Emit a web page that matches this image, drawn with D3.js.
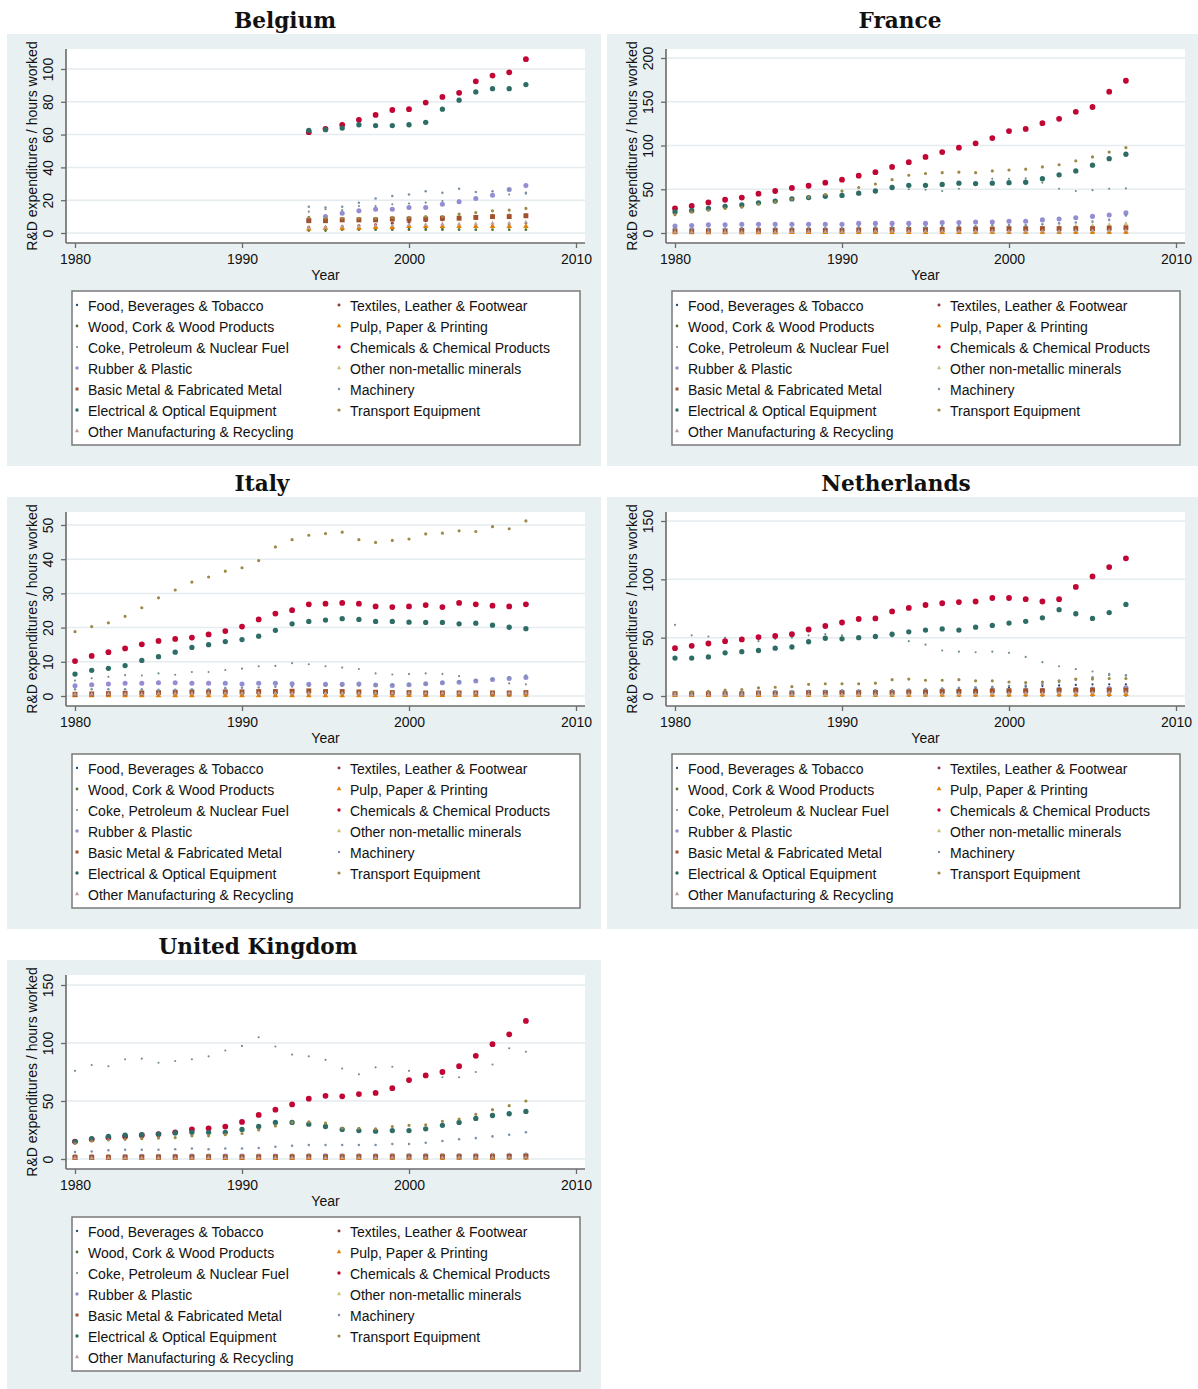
<!DOCTYPE html>
<html lang="en">
<head>
<meta charset="UTF-8">
<title>R&amp;D expenditures / hours worked by industry</title>
<style>
  body { margin: 0; background: #fff; }
  svg text { font-family: "Liberation Sans", Arial, sans-serif; fill: #111; }
  .title { font-family: "DejaVu Serif", Georgia, serif !important; font-weight: bold; font-size: 21.6px; }
  .axtitle { font-size: 14px; }
  .leg { font-size: 14px; }
</style>
</head>
<body>
<svg width="1198" height="1389"></svg>
<script src="https://d3js.org/d3.v7.min.js"></script>
<script>
// industries, in legend (row-major, 2 columns) order
const seriesNames = [
  "Food, Beverages & Tobacco", "Textiles, Leather & Footwear",
  "Wood, Cork & Wood Products", "Pulp, Paper & Printing",
  "Coke, Petroleum & Nuclear Fuel", "Chemicals & Chemical Products",
  "Rubber & Plastic", "Other non-metallic minerals",
  "Basic Metal & Fabricated Metal", "Machinery",
  "Electrical & Optical Equipment", "Transport Equipment",
  "Other Manufacturing & Recycling"
];
// stata s2color
const seriesColors = ["#1a476f", "#90353b", "#55752f", "#e37e00", "#6e8e84", "#c10534",
  "#938dd2", "#cac27e", "#a0522d", "#7b92a8", "#2d6d66", "#9c8847", "#bfa19c"];
const seriesShapes = ["circle", "circle", "circle", "triangle", "circle", "circle",
  "circle", "triangle", "square", "circle", "circle", "circle", "triangle"];
const seriesSize = [4, 7, 6, 14, 3.5, 26, 20, 8, 24, 5, 22, 8, 8];

const yearsBelgium = [1994, 1995, 1996, 1997, 1998, 1999, 2000, 2001, 2002, 2003, 2004, 2005, 2006, 2007];
const yearsAll = [1980, 1981, 1982, 1983, 1984, 1985, 1986, 1987, 1988, 1989, 1990, 1991, 1992, 1993,
  1994, 1995, 1996, 1997, 1998, 1999, 2000, 2001, 2002, 2003, 2004, 2005, 2006, 2007];
const xTicks = [1980, 1990, 2000, 2010];

const belgium = [
  [2.5, 2.5, 2.5, 3, 3, 3, 3, 3, 3, 3.5, 4, 4.5, 5, 6],
  [3.5, 3.5, 4, 4.5, 5, 6, 6.5, 7.5, 8, 9, 9, 9.5, 10, 11],
  [1.5, 1.5, 2, 2, 2, 2, 2, 2, 2, 2, 2, 2, 2, 2],
  [2.5, 3, 3, 3, 3.5, 3.5, 4, 4, 4, 4, 4, 4, 4, 4],
  [13, 14.5, 14, 16.5, 16.5, 17.5, 18, 18.5, 19.5, 20, 21.5, 23.5, 23.5, 24],
  [61.5, 63.5, 66, 69, 72, 75, 75.5, 79.5, 83, 85.5, 92.5, 96, 98, 106],
  [8, 10, 12, 13.5, 14.5, 14.5, 15.5, 15.5, 17.5, 19, 21, 23, 26.5, 29],
  [7, 7, 7.5, 7.5, 8, 8.5, 9, 9, 9.5, 10, 10, 10.5, 11, 11],
  [7.5, 7.5, 8, 8, 8, 8.5, 8.5, 8.5, 9, 9, 9.5, 10, 10, 10.5],
  [16, 15.5, 16, 18.5, 21, 22.5, 23.5, 25.5, 24.5, 27, 25, 25.5, 26.5, 24.5],
  [62.5, 63, 64, 66, 65.5, 65.5, 66, 67.5, 75.5, 81, 86, 88, 88, 90.5],
  [9.5, 9, 9, 9, 9, 9.5, 9.5, 10, 10, 11.5, 12.5, 13.5, 14, 15],
  [3, 3.5, 4, 4, 4.5, 4.5, 5, 5, 5.5, 5.5, 5.5, 6, 6, 6.5]
];

const france = [
  [1, 1, 1, 1, 1, 1, 1, 1.2, 1.2, 1.2, 1.3, 1.3, 1.3, 1.4, 1.4, 1.4, 1.5, 1.5, 1.5, 1.5, 1.6, 1.6, 1.6, 1.7, 1.7, 1.8, 1.9, 2],
  [1.5, 1.5, 1.5, 1.5, 2, 2, 2, 2, 2, 2, 2, 2.5, 2.5, 2.5, 3, 3, 3, 3, 3, 3, 3.5, 3.5, 3.5, 3.5, 4, 4, 4.5, 5],
  [0.3, 0.3, 0.3, 0.3, 0.3, 0.3, 0.3, 0.3, 0.4, 0.4, 0.4, 0.4, 0.4, 0.4, 0.4, 0.4, 0.5, 0.5, 0.5, 0.5, 0.5, 0.5, 0.5, 0.5, 0.5, 0.5, 0.5, 0.5],
  [0.5, 0.5, 0.5, 0.5, 0.5, 0.5, 0.5, 0.6, 0.6, 0.6, 0.6, 0.7, 0.7, 0.7, 0.8, 0.8, 0.8, 0.8, 0.9, 0.9, 0.9, 1, 1, 1, 1, 1, 1.1, 1.1],
  [22, 24, 27, 29, 31, 33, 35, 38, 40, 42, 45, 47, 48, 50, 50, 49.5, 48, 50.5, 55, 62, 62, 62.5, 57.5, 50.5, 48, 49, 50.5, 51],
  [28, 31, 35, 38, 40.5, 45, 48, 51.5, 54, 57.5, 61, 65.5, 69.5, 75.5, 81, 87, 92.5, 97.5, 102.5, 108.5, 116.5, 119, 125.5, 130.5, 138.5, 144, 161.5, 174],
  [8, 8.5, 9.5, 9.5, 10, 10, 10, 10, 10, 10, 10, 11, 11, 11, 11, 11, 12, 12, 12.5, 12.5, 13.5, 13.5, 15, 16, 17.5, 19, 20.5, 23],
  [3, 3, 3, 3, 3, 3, 3, 3, 3.2, 3.3, 3.5, 3.7, 3.9, 4, 4.2, 4.4, 4.6, 4.8, 5, 5.3, 5.7, 6, 6.5, 7, 7.8, 8.5, 9.5, 10.5],
  [2.5, 2.5, 2.5, 2.5, 3, 3, 3, 3, 3, 3, 3, 3.5, 3.5, 4, 4, 4, 4, 4.5, 4.5, 4.5, 5, 5, 5, 5, 5, 5, 5.5, 6],
  [5, 5, 5, 5, 6, 6, 6, 6, 6, 6, 6, 7, 7, 7, 7, 7, 8, 8, 8, 9, 9, 9, 10, 11, 12, 13, 15, 20],
  [24, 25.5, 28, 30.5, 32, 34.5, 36.5, 39, 40.5, 42, 43, 45.5, 48, 52, 54.5, 54.5, 55.5, 57, 56.5, 57, 57.5, 58, 62, 66.5, 71, 77.5, 85, 90],
  [21, 24, 26, 28, 29.5, 33, 35.5, 38.5, 41, 44, 48, 52, 56, 61, 66, 68, 69, 69.5, 69, 71, 72, 73, 75.5, 78, 82.5, 87, 92.5, 97.5],
  [1, 1, 1, 1, 1, 1, 1, 1.5, 1.5, 1.5, 1.5, 2, 2, 2, 2, 2, 2, 2, 2, 2, 2, 2, 2, 2, 2.5, 2.5, 2.5, 3]
];

const italy = [
  [0.5, 0.5, 0.5, 0.5, 0.5, 0.5, 0.6, 0.6, 0.6, 0.6, 0.6, 0.6, 0.6, 0.6, 0.6, 0.6, 0.6, 0.6, 0.6, 0.6, 0.6, 0.7, 0.7, 0.7, 0.7, 0.8, 0.8, 0.8],
  [0.3, 0.3, 0.3, 0.3, 0.3, 0.3, 0.4, 0.4, 0.4, 0.4, 0.5, 0.5, 0.5, 0.5, 0.5, 0.5, 0.5, 0.5, 0.5, 0.5, 0.5, 0.5, 0.5, 0.5, 0.5, 0.5, 0.5, 0.5],
  [0.1, 0.1, 0.1, 0.1, 0.1, 0.1, 0.1, 0.1, 0.1, 0.1, 0.1, 0.1, 0.1, 0.1, 0.1, 0.1, 0.1, 0.1, 0.1, 0.1, 0.1, 0.1, 0.1, 0.1, 0.1, 0.1, 0.1, 0.1],
  [0.1, 0.1, 0.1, 0.1, 0.1, 0.1, 0.1, 0.1, 0.1, 0.1, 0.1, 0.1, 0.1, 0.1, 0.1, 0.1, 0.1, 0.1, 0.1, 0.1, 0.2, 0.2, 0.2, 0.2, 0.2, 0.3, 0.3, 0.3],
  [4.5, 5.2, 5.6, 6.1, 6, 6.6, 6.2, 7, 7, 7.6, 8, 8.7, 8.8, 9.6, 9.3, 8.7, 8.3, 7.9, 6.6, 6.3, 6.4, 6.6, 6.4, 5.8, 4.5, 4.8, 3.7, 3.4],
  [10.2, 11.7, 12.8, 13.9, 15.1, 16.1, 16.7, 17.1, 18, 19, 20.3, 22.4, 24.1, 25.1, 26.8, 27, 27.2, 27, 26.2, 26, 26.2, 26.6, 26, 27.2, 26.8, 26.4, 26.2, 26.8],
  [3, 3.3, 3.5, 3.7, 3.7, 3.9, 3.9, 3.7, 3.7, 3.7, 3.5, 3.7, 3.7, 3.6, 3.4, 3.4, 3.4, 3.5, 3.2, 3.1, 3.3, 3.6, 3.9, 4, 4.4, 4.8, 5.1, 5.4],
  [0.8, 0.8, 0.9, 0.9, 1, 1, 1.1, 1.1, 1.2, 1.2, 1.2, 1.2, 1.3, 1.3, 1.3, 1.3, 1.2, 1.2, 1.1, 1.1, 1.1, 1, 1, 1, 1, 1, 1, 1],
  [0.5, 0.6, 0.7, 0.8, 0.9, 1, 1.1, 1.2, 1.2, 1.2, 1.2, 1.3, 1.3, 1.4, 1.5, 1.3, 1.3, 1.2, 1.1, 1, 1, 0.9, 0.9, 0.9, 0.9, 0.9, 0.9, 1],
  [2, 2, 2, 2, 2, 1.8, 1.8, 2, 2, 2.3, 2.4, 2.5, 2.7, 2.8, 3, 3, 3, 3.1, 3.1, 3.3, 3.4, 3.6, 4, 4.3, 4.7, 5, 5.5, 6],
  [6.4, 7.5, 8.1, 8.9, 10.4, 11.5, 12.8, 14.2, 15, 15.9, 16.5, 17.5, 19.2, 21.1, 21.8, 22.2, 22.6, 22.4, 21.8, 21.8, 21.6, 21.5, 21.5, 21.1, 21.3, 20.7, 20.1, 19.7],
  [18.8, 20.3, 21.4, 23.3, 25.8, 28.7, 31, 33.3, 34.8, 36.5, 37.5, 39.6, 43.6, 45.7, 47, 47.5, 47.9, 45.7, 44.9, 45.5, 45.9, 47.4, 47.6, 48.3, 48.1, 49.5, 48.9, 51.2],
  [0.5, 0.5, 0.6, 0.6, 0.6, 0.7, 0.7, 0.7, 0.8, 0.8, 0.8, 0.8, 0.8, 0.8, 0.8, 0.8, 0.8, 0.8, 0.8, 0.8, 0.8, 0.8, 0.8, 0.8, 0.8, 0.8, 0.8, 0.8]
];

const netherlands = [
  [2, 2, 2, 2, 2.5, 2.5, 3, 3, 3, 3.5, 4, 4, 4.5, 4.5, 5, 5.5, 6, 6, 6.5, 7, 7.5, 8, 8.5, 9, 9.5, 10, 10, 10],
  [1, 1, 1, 1, 1, 1, 1, 1.2, 1.2, 1.2, 1.2, 1.3, 1.3, 1.4, 1.4, 1.5, 1.5, 1.5, 1.6, 1.6, 1.7, 1.7, 1.8, 1.8, 2, 2, 2.2, 2.5],
  [0.3, 0.3, 0.3, 0.3, 0.3, 0.3, 0.3, 0.3, 0.3, 0.3, 0.4, 0.4, 0.4, 0.4, 0.4, 0.4, 0.4, 0.4, 0.4, 0.4, 0.5, 0.5, 0.5, 0.5, 0.5, 0.5, 0.5, 0.5],
  [0.5, 0.5, 0.5, 0.5, 0.6, 0.6, 0.6, 0.6, 0.7, 0.7, 0.7, 0.7, 0.8, 0.8, 0.8, 0.9, 0.9, 0.9, 1, 1, 1, 1.1, 1.1, 1.2, 1.2, 1.3, 1.4, 1.5],
  [61, 52, 51, 50, 49, 47, 49, 50, 52, 53, 52, 50, 50, 51, 47, 44, 39, 38, 37.5, 38, 37, 33.5, 29, 25.5, 23, 21, 19, 18],
  [41, 43, 45, 47, 48.5, 50.5, 51.5, 53, 57, 60, 63, 66, 66.5, 72.5, 75.5, 78, 79.5, 80.5, 81, 84, 84, 83, 81, 83, 93.5, 102.5, 110.5, 118],
  [2, 2, 2, 2, 2, 2.5, 2.5, 2.5, 3, 3, 3, 3, 3, 3, 3.5, 3.5, 4, 4, 4, 4.5, 4.5, 4.5, 5, 5.5, 5.5, 6, 6.5, 7],
  [1, 1, 1, 1, 1, 1, 1.2, 1.2, 1.3, 1.3, 1.4, 1.4, 1.5, 1.5, 1.6, 1.6, 1.7, 1.8, 2, 2.2, 2.5, 3, 3.5, 4, 4.5, 5, 5.5, 6],
  [2, 2, 2, 2, 2, 2.5, 2.5, 2.5, 3, 3, 3, 3, 3, 3, 3.5, 3.5, 4, 4, 4, 4.5, 4.5, 4.5, 4.5, 5, 5, 5, 5, 5],
  [3, 3, 3, 3, 3.5, 3.5, 4, 4, 4.5, 4.5, 5, 5, 5, 5, 5.5, 6, 6.5, 7, 7.5, 8, 8.5, 9, 10, 12, 14, 16, 18, 17.5],
  [32.5, 32.5, 33.5, 37, 38, 39, 41, 42, 46.5, 49.5, 49, 50, 51, 53, 55, 56.5, 57.5, 56.5, 59, 60.5, 62.5, 64, 67, 74, 70.5, 66.5, 71.5, 78.5],
  [3, 3.5, 4, 5, 5.5, 7, 7.5, 8, 10, 10.5, 10.5, 10.5, 11, 14, 14.5, 13.5, 13.5, 14, 13, 13, 12, 11.5, 12, 13, 14.5, 14.5, 15, 15],
  [1, 1, 1, 1, 1.2, 1.2, 1.2, 1.3, 1.3, 1.4, 1.4, 1.5, 1.5, 1.6, 1.7, 1.8, 1.9, 2, 2, 2.1, 2.2, 2.3, 2.4, 2.5, 2.6, 2.7, 2.8, 3]
];

const unitedKingdom = [
  [1, 1, 1, 1, 1, 1, 1, 1, 1, 1, 1.1, 1.1, 1.1, 1.1, 1.2, 1.2, 1.2, 1.2, 1.3, 1.3, 1.3, 1.3, 1.4, 1.4, 1.4, 1.5, 1.5, 1.6],
  [1.5, 1.5, 1.5, 1.5, 1.5, 1.5, 1.6, 1.6, 1.6, 1.6, 1.7, 1.7, 1.7, 1.7, 1.8, 1.8, 1.8, 1.8, 1.9, 1.9, 1.9, 2, 2, 2, 2.1, 2.1, 2.2, 2.3],
  [0.3, 0.3, 0.3, 0.3, 0.3, 0.3, 0.3, 0.3, 0.3, 0.3, 0.3, 0.3, 0.3, 0.3, 0.3, 0.3, 0.3, 0.3, 0.3, 0.3, 0.3, 0.3, 0.3, 0.3, 0.3, 0.3, 0.3, 0.3],
  [0.5, 0.5, 0.5, 0.5, 0.5, 0.5, 0.5, 0.5, 0.5, 0.5, 0.6, 0.6, 0.6, 0.6, 0.6, 0.6, 0.6, 0.6, 0.7, 0.7, 0.7, 0.7, 0.7, 0.8, 0.8, 0.8, 0.9, 0.9],
  [76, 81, 80, 86, 86.5, 83, 84.5, 86, 88.5, 93.5, 97.5, 105, 97, 90, 88.5, 85.5, 78, 73, 79, 79.5, 76, 71.5, 70.5, 70.5, 75, 81.5, 95.5, 92.5],
  [15, 17, 18.5, 19.5, 20.5, 21.5, 23, 25.5, 26.5, 28, 32, 38, 42.5, 47, 52, 54.5, 54, 56, 57, 61, 68, 72, 75, 80, 89, 99, 107.5, 119],
  [2, 2, 2, 2.2, 2.3, 2.3, 2.4, 2.5, 2.5, 2.5, 2.5, 2.6, 2.6, 2.6, 2.7, 2.7, 2.8, 2.8, 2.8, 2.9, 2.9, 3, 3, 3.1, 3.1, 3.2, 3.3, 3.5],
  [2.5, 2.5, 2.5, 2.5, 2.6, 2.6, 2.6, 2.7, 2.7, 2.7, 2.8, 2.8, 2.8, 2.9, 2.9, 3, 3, 3, 3.1, 3.1, 3.2, 3.2, 3.3, 3.3, 3.4, 3.5, 3.6, 3.8],
  [1.5, 1.5, 1.5, 1.6, 1.7, 1.7, 1.8, 1.8, 1.8, 1.8, 1.8, 1.8, 1.9, 1.9, 1.9, 1.9, 1.9, 1.9, 1.9, 1.9, 1.9, 2, 2, 2, 2, 2, 2.2, 2.4],
  [6, 6.5, 7.5, 8, 8, 8, 8.5, 9, 8.5, 9, 9, 9.5, 10.5, 11.5, 12, 12, 12, 12, 12, 13, 13, 14, 15.5, 17, 18, 19.5, 21, 23],
  [15, 17.5, 19.5, 20.5, 21, 21.5, 22.5, 23, 23, 23, 25.5, 28, 31.5, 31.5, 30, 28, 25.5, 24.5, 24, 24.5, 24.5, 26, 29, 31.5, 35, 37.5, 39, 41],
  [13.5, 15.5, 16.5, 17, 17.5, 18, 18.5, 20, 20, 21, 22, 25, 28.5, 31.5, 32, 31, 26.5, 26.5, 26, 28, 29, 29.5, 32.5, 34.5, 38.5, 42.5, 46, 50],
  [0.8, 0.8, 0.8, 0.8, 0.9, 0.9, 0.9, 0.9, 1, 1, 1, 1, 1, 1, 1.1, 1.1, 1.1, 1.1, 1.1, 1.2, 1.2, 1.2, 1.2, 1.3, 1.3, 1.3, 1.4, 1.4]
];

const panels = [
  { title: "Belgium", years: yearsBelgium, values: belgium, yTicks: [0, 20, 40, 60, 80, 100], col: 0, row: 0, titleX: 278, topPx: 35 },
  { title: "France", years: yearsAll, values: france, yTicks: [0, 50, 100, 150, 200], col: 1, row: 0, titleX: 293, topPx: 24 },
  { title: "Italy", years: yearsAll, values: italy, yTicks: [0, 10, 20, 30, 40, 50], col: 0, row: 1, titleX: 255, topPx: 28 },
  { title: "Netherlands", years: yearsAll, values: netherlands, yTicks: [0, 50, 100, 150], col: 1, row: 1, titleX: 289, topPx: 24 },
  { title: "United Kingdom", years: yearsAll, values: unitedKingdom, yTicks: [0, 50, 100, 150], col: 0, row: 2, titleX: 251, topPx: 25 }
];

const svg = d3.select("svg");
const bgColor = "#e8f0f2";
const axisColor = "#6a6a6a";

const symbolType = { circle: d3.symbolCircle, triangle: d3.symbolTriangle, square: d3.symbolSquare };

panels.forEach(p => {
  const px = p.col === 0 ? 7 : 607;
  const pw = p.col === 0 ? 594 : 591;
  const py = 34 + p.row * 463;
  const ph = p.row === 2 ? 1389 - py : 432;

  const g = svg.append("g");

  // title sits above the panel
  g.append("text").attr("class", "title")
    .attr("x", px + p.titleX).attr("y", py - 6)
    .attr("text-anchor", "middle")
    .text(p.title);

  g.append("rect").attr("x", px).attr("y", py).attr("width", pw).attr("height", ph)
    .attr("fill", bgColor);

  const x = d3.scaleLinear().domain([1980, 2010]).range([px + 68, px + 569]);
  const y = d3.scaleLinear().domain([0, d3.max(p.yTicks)]).range([py + 199, py + p.topPx]);

  const left = px + 59, right = px + 578, top = py + 15, bottom = py + 209;

  g.append("rect").attr("x", left).attr("y", top)
    .attr("width", right - left).attr("height", bottom - top)
    .attr("fill", "#fff");

  // grid
  g.selectAll(".grid").data(p.yTicks).join("line")
    .attr("x1", left).attr("x2", right)
    .attr("y1", d => y(d)).attr("y2", d => y(d))
    .attr("stroke", "#e4ecef").attr("stroke-width", 1.5);

  // points, series drawn in order
  p.values.forEach((vals, si) => {
    const sym = d3.symbol().type(symbolType[seriesShapes[si]]).size(seriesSize[si]);
    g.append("g").selectAll("path").data(vals).join("path")
      .attr("d", sym)
      .attr("transform", (v, i) => `translate(${x(p.years[i])},${y(v)})`)
      .attr("fill", seriesColors[si]);
  });

  // y axis, labels rotated like stata
  const yAxis = d3.axisLeft(y).tickValues(p.yTicks).tickSize(5).tickFormat(d3.format("d"));
  const ya = g.append("g").attr("transform", `translate(${left},0)`).call(yAxis);
  ya.select(".domain").attr("d", `M0,${top}V${bottom}`);
  ya.selectAll(".tick text")
    .attr("x", 0).attr("y", 0).attr("dy", null)
    .attr("text-anchor", "middle")
    .attr("transform", "translate(-13,0) rotate(-90)");

  // x axis
  const xAxis = d3.axisBottom(x).tickValues(xTicks).tickSize(5).tickPadding(6).tickFormat(d3.format("d"));
  const xa = g.append("g").attr("transform", `translate(0,${bottom})`).call(xAxis);
  xa.select(".domain").attr("d", `M${left},0H${right}`);

  [ya, xa].forEach(a => {
    a.attr("font-family", null).attr("font-size", null);
    a.select(".domain").attr("stroke", axisColor).attr("stroke-width", 1.6);
    a.selectAll(".tick line").attr("stroke", axisColor).attr("stroke-width", 1.3);
    a.selectAll(".tick text").attr("fill", "#111").attr("font-size", 14);
  });

  g.append("text").attr("class", "axtitle")
    .attr("x", x(1995)).attr("y", py + 246)
    .attr("text-anchor", "middle").text("Year");

  g.append("text").attr("class", "axtitle")
    .attr("transform", `translate(${px + 30},${(top + bottom) / 2}) rotate(-90)`)
    .attr("text-anchor", "middle").text("R&D expenditures / hours worked");

  // legend
  const lx = px + 65, ly = py + 257;
  g.append("rect").attr("x", lx).attr("y", ly).attr("width", 508).attr("height", 154)
    .attr("fill", "#fff").attr("stroke", "#7a7a7a").attr("stroke-width", 1.5);

  seriesNames.forEach((name, i) => {
    const c = i % 2, r = Math.floor(i / 2);
    const mx = lx + (c === 0 ? 5 : 267), my = ly + 15 + r * 21;
    const sym = d3.symbol().type(symbolType[seriesShapes[i]]).size(Math.min(seriesSize[i], 9));
    g.append("path").attr("d", sym).attr("transform", `translate(${mx},${my - 1})`)
      .attr("fill", seriesColors[i]);
    g.append("text").attr("class", "leg")
      .attr("x", mx + 11).attr("y", my + 5).text(name);
  });
});
</script>
</body>
</html>
